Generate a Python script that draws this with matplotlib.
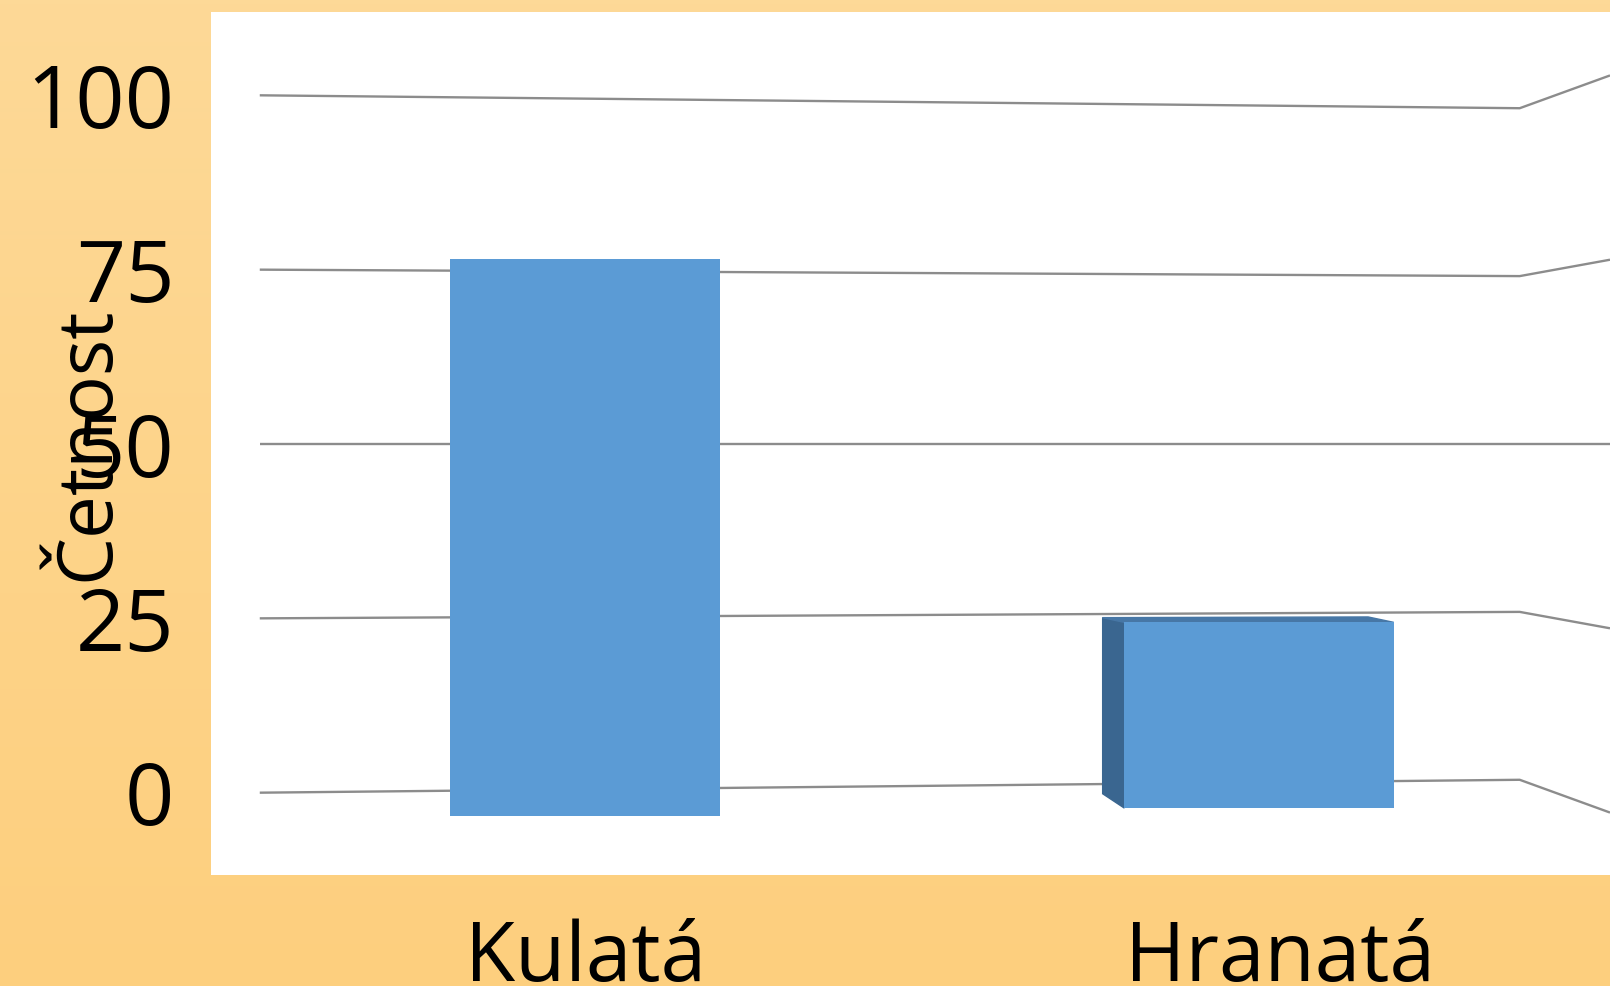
import numpy as np
import matplotlib.pyplot as plt
import matplotlib.transforms as mtransforms
from matplotlib.patches import Polygon

# chart data
categories = ["Kulatá", "Hranatá"]
values = [75, 25]
y_ticks = [0, 25, 50, 75, 100]
y_label = "Četnost"

plt.rcParams['font.family'] = ['Open Sans', 'DejaVu Sans']

FRONT = "#5B9BD5"
SIDE = "#3A6690"
TOP = "#4777A6"
GRID = "#8C8C8C"

fig = plt.figure(figsize=(16.10, 9.86), dpi=100)

# orange gradient background behind everything
bg = fig.add_axes([0, 0, 1, 1], zorder=0)
grad = np.linspace(0, 1, 256).reshape(-1, 1)
c_top = np.array([0xFD, 0xD9, 0x97]) / 255
c_bot = np.array([0xFD, 0xCF, 0x7E]) / 255
img = c_top[None, None, :] * (1 - grad[..., None]) + c_bot[None, None, :] * grad[..., None]
bg.imshow(img, aspect='auto', extent=[0, 1, 0, 1])
bg.axis('off')

ax = fig.add_axes([0.1308, 0.1126, 0.8692, 0.8749], zorder=1)
ax.set_facecolor("white")
ax.set_xlim(-0.556, 1.521)
ax.set_ylim(-11.8, 111.9)

# back wall with a bit of perspective: lines converge toward the 50 level
x_left, x_corner, x_right = -0.483, 1.387, 1.521
s_corner, s_right = 0.963, 1.057
for v in y_ticks:
    xs = [x_left, x_corner, x_right]
    ys = [50 + (v - 50) * s for s in (1.0, s_corner, s_right)]
    ax.plot(xs, ys, color=GRID, lw=1.7, zorder=1, solid_capstyle='butt')

# 3D-ish bars: front face sits a bit in front of the wall
width = 0.40
depth = 0.032
x_pos = np.arange(len(categories))


def front(v, x):
    return -3.3 + 1.1 * x + 1.065 * v


def back(v):
    return -0.15 + 1.01 * v


for i, (x, v) in enumerate(zip(x_pos, values)):
    base = front(0, x)
    ax.bar(x, front(v, x) - base, bottom=base, width=width,
           color=FRONT, zorder=3)
    if i > 0:
        # left side face and thin top face visible for the right bar
        xl = x - width / 2
        side = Polygon([(xl - depth, back(0)), (xl - depth, back(v)),
                        (xl, front(v, x)), (xl, base)],
                       closed=True, color=SIDE, zorder=2)
        top = Polygon([(xl - depth, back(v)), (xl + width - 0.038, back(v) + 0.1),
                       (xl + width, front(v, x)), (xl, front(v, x))],
                      closed=True, color=TOP, zorder=2)
        ax.add_patch(side)
        ax.add_patch(top)

ax.set_xticks(x_pos)
ax.set_xticklabels(categories)
ax.set_yticks(y_ticks)
ax.set_yticklabels([str(t) for t in y_ticks])
ax.tick_params(axis='both', length=0)
ax.tick_params(axis='y', pad=26, labelsize=62)
ax.tick_params(axis='x', pad=31, labelsize=59)
for sp in ax.spines.values():
    sp.set_visible(False)

# the right category label sits a little right of its bar (perspective)
lab = ax.get_xticklabels()[1]
lab.set_transform(lab.get_transform() +
                  mtransforms.ScaledTranslation(0.21, 0, fig.dpi_scale_trans))

fig.text(0.0545, 0.55, y_label, rotation=90, ha='center', va='center',
         fontsize=55)

fig.savefig("out.png", dpi=100)
